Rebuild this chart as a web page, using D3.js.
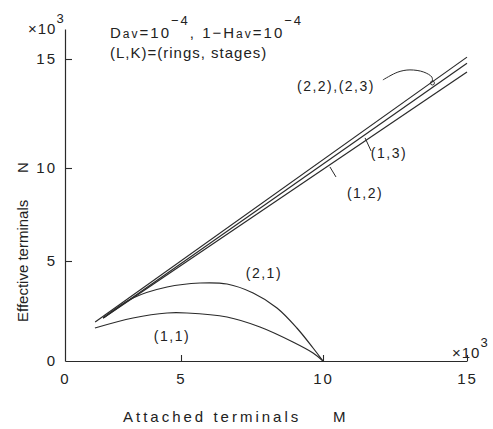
<!DOCTYPE html>
<html>
<head>
<meta charset="utf-8">
<script src="https://cdn.jsdelivr.net/npm/d3@7"></script>
<style>
  body { margin: 0; background: #fff; }
  svg { display: block; }
  text { font-family: "Liberation Sans", "DejaVu Sans", sans-serif; fill: #222; }
</style>
</head>
<body>
<div id="chart"></div>
<script>
// tick values (x10^3)
const xTicks = [0, 5, 10, 15];
const yTicks = [0, 5, 10, 15];

// attached terminals M (x10^3) and effective terminals N (x10^3)
const m22 = [1.3, 15];
const n22 = [1.95, 15.1];
const m13 = [1.65, 15];
const n13 = [2.15, 14.8];
const m12 = [1.65, 15];
const n12 = [2.15, 14.4];
const m21 = [1.64, 2.93, 4.4, 5.67, 6.62, 7.54, 8.38, 9.08, 9.65, 10];
const n21 = [2.15, 3.15, 3.7, 3.9, 3.85, 3.4, 2.65, 1.65, 0.65, 0];
const m11 = [1.29, 2.93, 4.4, 5.21, 6.62, 7.78, 8.94, 9.65, 10];
const n11 = [1.65, 2.15, 2.4, 2.4, 2.2, 1.7, 0.95, 0.4, 0];

const seriesNames = ["(2,2),(2,3)", "(1,3)", "(1,2)", "(2,1)", "(1,1)"];

const W = 493, H = 429;

const svg = d3.select("#chart")
    .append("svg")
    .attr("width", W)
    .attr("height", H)
    .style("background", "#fff");

// the scanned axes are not evenly spaced, so the scales follow the printed ticks
const x = d3.scaleLinear().domain([0, 5, 10, 15]).range([65, 181, 323, 467]);
const y = d3.scaleLinear().domain([0, 5, 10, 15, 16.6]).range([361, 261, 168, 59, 29]);

const ink = "#2a2a2a";

// axes
const xAxis = svg.append("g")
    .attr("transform", `translate(0,${y(0)})`)
    .call(d3.axisBottom(x).tickValues(xTicks).tickSizeInner(-6).tickSizeOuter(0).tickPadding(12));
const yAxis = svg.append("g")
    .attr("transform", `translate(${x(0)},0)`)
    .call(d3.axisLeft(y).tickValues(yTicks).tickSizeInner(-7).tickSizeOuter(0).tickPadding(8));

[xAxis, yAxis].forEach(g => {
    g.select(".domain").attr("stroke", ink).attr("stroke-width", 1.2);
    g.selectAll(".tick line").attr("stroke", ink).attr("stroke-width", 1.1);
    g.selectAll(".tick text")
        .attr("font-size", 15)
        .attr("font-family", "Liberation Sans, DejaVu Sans, sans-serif")
        .attr("fill", ink)
        .style("letter-spacing", "2px");
});
yAxis.selectAll(".tick line").filter(d => d === 0).remove();
xAxis.selectAll(".tick line").filter(d => d === 0).remove();

// series
const series = [
    {name: seriesNames[0], m: m22, n: n22},
    {name: seriesNames[1], m: m13, n: n13},
    {name: seriesNames[2], m: m12, n: n12},
    {name: seriesNames[3], m: m21, n: n21},
    {name: seriesNames[4], m: m11, n: n11}
];

const line = d3.line()
    .x(d => x(d[0]))
    .y(d => y(d[1]))
    .curve(d3.curveCatmullRom.alpha(0.5));

svg.append("g")
    .selectAll("path")
    .data(series)
    .join("path")
    .attr("d", s => line(s.m.map((v, i) => [v, s.n[i]])))
    .attr("fill", "none")
    .attr("stroke", ink)
    .attr("stroke-width", 1.2);

// curve labels (placed in data units)
const labels = [
    {text: seriesNames[0], m: 10.45, n: 13.76},
    {text: seriesNames[1], m: 12.29, n: 10.69},
    {text: seriesNames[2], m: 11.46, n: 8.66},
    {text: seriesNames[3], m: 7.92, n: 4.4},
    {text: seriesNames[4], m: 4.61, n: 1.25}
];
svg.append("g")
    .selectAll("text")
    .data(labels)
    .join("text")
    .attr("x", d => x(d.m))
    .attr("y", d => y(d.n))
    .attr("dy", "0.35em")
    .attr("text-anchor", "middle")
    .attr("font-size", 14)
    .style("letter-spacing", "1.5px")
    .text(d => d.text);

// leader lines
const leaders = [
    [[10.24, 10.05], [10.45, 9.52]],
    [[11.46, 11.38], [11.67, 10.78]]
];
svg.append("g")
    .selectAll("line")
    .data(leaders)
    .join("line")
    .attr("x1", d => x(d[0][0])).attr("y1", d => y(d[0][1]))
    .attr("x2", d => x(d[1][0])).attr("y2", d => y(d[1][1]))
    .attr("stroke", ink)
    .attr("stroke-width", 1);

const arc = [[12.08, 14.04], [12.6, 14.4], [13.02, 14.5], [13.5, 14.4], [13.78, 14.17], [13.8, 13.98]];
svg.append("path")
    .attr("d", d3.line().x(d => x(d[0])).y(d => y(d[1])).curve(d3.curveCatmullRom)(arc))
    .attr("fill", "none")
    .attr("stroke", ink)
    .attr("stroke-width", 1);
svg.append("circle")
    .attr("cx", x(13.8))
    .attr("cy", y(13.9))
    .attr("r", 2)
    .attr("fill", "none")
    .attr("stroke", ink)
    .attr("stroke-width", 0.9);

// multiplier marks
function times10(gx, gy) {
    const t = svg.append("text")
        .attr("x", gx)
        .attr("y", gy)
        .attr("font-size", 15)
        .style("letter-spacing", "1px");
    t.append("tspan").text("×10");
    t.append("tspan").attr("dy", -11).attr("font-size", 13).text("3");
}
times10(28, 34);
times10(452, 358);

// parameter text
const p1 = svg.append("text")
    .attr("x", 110)
    .attr("y", 38)
    .attr("font-size", 15)
    .style("letter-spacing", "2px");
p1.append("tspan").text("D");
p1.append("tspan").attr("font-size", 12).text("av");
p1.append("tspan").text("=10");
p1.append("tspan").attr("dy", -13).attr("font-size", 13).text("−4");
p1.append("tspan").attr("dy", 13).text(",  1−H");
p1.append("tspan").attr("font-size", 12).text("av");
p1.append("tspan").text("=10");
p1.append("tspan").attr("dy", -13).attr("font-size", 13).text("−4");

svg.append("text")
    .attr("x", 110)
    .attr("y", 58)
    .attr("font-size", 15)
    .style("letter-spacing", "1px")
    .text("(L,K)=(rings, stages)");

// axis titles
svg.append("text")
    .attr("x", 123)
    .attr("y", 422)
    .attr("font-size", 15)
    .style("letter-spacing", "3px")
    .text("Attached terminals");
svg.append("text")
    .attr("x", 333)
    .attr("y", 422)
    .attr("font-size", 15)
    .text("M");

svg.append("text")
    .attr("transform", "translate(28,322) rotate(-90)")
    .attr("font-size", 15)
    .text("Effective terminals");
svg.append("text")
    .attr("transform", "translate(28,173) rotate(-90)")
    .attr("font-size", 15)
    .text("N");
</script>
</body>
</html>
